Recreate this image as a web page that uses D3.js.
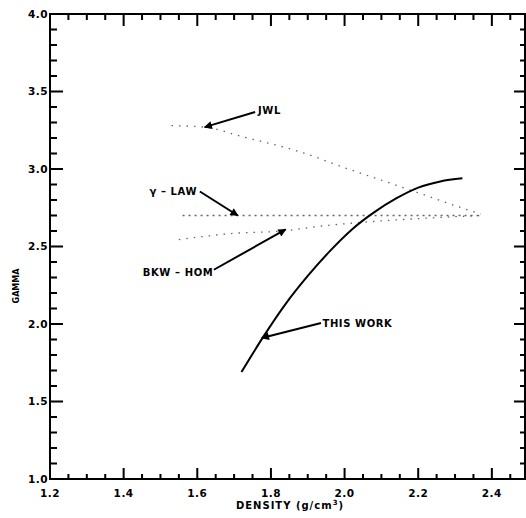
<!DOCTYPE html>
<html>
<head>
<meta charset="utf-8">
<script src="https://cdn.jsdelivr.net/npm/d3@7"></script>
<style>
  html, body { margin: 0; padding: 0; background: #fff; }
  svg { display: block; }
  text { font-family: "DejaVu Sans", sans-serif; font-weight: bold; fill: #000; }
</style>
</head>
<body>
<svg id="chart" width="526" height="518"></svg>
<script>
// Tick values and labels
const xMajor = [1.2, 1.4, 1.6, 1.8, 2.0, 2.2, 2.4];
const xLabels = ["1.2", "1.4", "1.6", "1.8", "2.0", "2.2", "2.4"];
const yMajor = [1.0, 1.5, 2.0, 2.5, 3.0, 3.5, 4.0];
const yLabels = ["1.0", "1.5", "2.0", "2.5", "3.0", "3.5", "4.0"];
const xMinor = [1.25, 1.3, 1.35, 1.45, 1.5, 1.55, 1.65, 1.7, 1.75, 1.85, 1.9, 1.95,
                2.05, 2.1, 2.15, 2.25, 2.3, 2.35, 2.45];
const yMinor = [1.1, 1.2, 1.3, 1.4, 1.6, 1.7, 1.8, 1.9, 2.1, 2.2, 2.3, 2.4,
                2.6, 2.7, 2.8, 2.9, 3.1, 3.2, 3.3, 3.4, 3.6, 3.7, 3.8, 3.9];

// THIS WORK (solid curve)
const thisWorkDensity = [1.72, 1.78, 1.84, 1.90, 1.96, 2.02, 2.08, 2.14, 2.20, 2.26, 2.32];
const thisWorkGamma   = [1.69, 1.92, 2.13, 2.31, 2.47, 2.61, 2.72, 2.81, 2.88, 2.92, 2.94];

// JWL (dotted)
const jwlDensity = [1.53, 1.62, 1.72, 1.88, 2.01, 2.11, 2.22, 2.33, 2.37];
const jwlGamma   = [3.28, 3.27, 3.21, 3.11, 3.00, 2.92, 2.83, 2.74, 2.71];

// gamma-law (dotted, constant)
const gammaLawDensity = [1.56, 2.37];
const gammaLawGamma   = [2.70, 2.70];

// BKW-HOM (dotted)
const bkwDensity = [1.55, 1.70, 1.83, 1.93, 2.07, 2.20, 2.37];
const bkwGamma   = [2.545, 2.585, 2.60, 2.63, 2.66, 2.68, 2.70];

// Annotation labels: text position, arrow start, arrow tip (data units)
const noteText  = ["JWL", "γ – LAW", "BKW – HOM", "THIS WORK"];
const noteAt    = [[1.765, 3.38], [1.47, 2.858], [1.452, 2.33], [1.94, 2.006]];
const arrowFrom = [[1.757, 3.368], [1.607, 2.855], [1.645, 2.35], [1.936, 2.006]];
const arrowTo   = [[1.62, 3.27], [1.71, 2.70], [1.84, 2.61], [1.775, 1.91]];

const svg = d3.select("#chart");
const plotL = 50, plotR = 525, plotT = 14, plotB = 479;

const x = d3.scaleLinear().domain([1.2, 2.49]).range([plotL, plotR]);
const y = d3.scaleLinear().domain([1.0, 4.0]).range([plotB, plotT]);

// frame
svg.append("rect")
  .attr("x", plotL).attr("y", plotT)
  .attr("width", plotR - plotL).attr("height", plotB - plotT)
  .attr("fill", "none").attr("stroke", "#000").attr("stroke-width", 2);

// inward tick marks on all four sides, as small filled bars
const tickG = svg.append("g").attr("fill", "#000");
function xTicks(vals, yEdge, len, cls) {
  tickG.selectAll("rect." + cls).data(vals).join("rect").attr("class", cls)
    .attr("x", d => x(d) - 1).attr("width", 2)
    .attr("y", len < 0 ? yEdge + len : yEdge).attr("height", Math.abs(len));
}
function yTicks(vals, xEdge, len, cls) {
  tickG.selectAll("rect." + cls).data(vals).join("rect").attr("class", cls)
    .attr("y", d => y(d) - 1).attr("height", 2)
    .attr("x", len < 0 ? xEdge + len : xEdge).attr("width", Math.abs(len));
}
xTicks(xMajor, plotB, -11, "bmaj");
xTicks(xMinor, plotB, -5, "bmin");
xTicks(xMajor, plotT, 12, "tmaj");
xTicks(xMinor, plotT, 6, "tmin");
yTicks(yMajor, plotL, 13, "lmaj");
yTicks(yMinor, plotL, 7, "lmin");
yTicks(yMajor, plotR, -11, "rmaj");
yTicks(yMinor, plotR, -5, "rmin");

// tick labels
svg.append("g").selectAll("text").data(xMajor).join("text")
  .attr("x", d => x(d)).attr("y", plotB + 18)
  .attr("text-anchor", "middle")
  .attr("font-size", 10.5).attr("letter-spacing", 0.5)
  .text((d, i) => xLabels[i]);
svg.append("g").selectAll("text").data(yMajor).join("text")
  .attr("x", plotL - 2).attr("y", d => y(d)).attr("dy", "0.35em")
  .attr("text-anchor", "end")
  .attr("font-size", 10.5).attr("letter-spacing", 0.5)
  .text((d, i) => yLabels[i]);

// axis titles
const xTitle = svg.append("text")
  .attr("x", 290).attr("y", 509)
  .attr("text-anchor", "middle")
  .attr("font-size", 10).attr("letter-spacing", 1);
xTitle.append("tspan").text("DENSITY (g/cm");
xTitle.append("tspan").attr("dy", -4).attr("font-size", 7).text("3");
xTitle.append("tspan").attr("dy", 4).text(")");

svg.append("text")
  .attr("transform", "translate(19,286) rotate(-90)")
  .attr("text-anchor", "middle")
  .attr("font-size", 8)
  .text("GAMMA");

const curve = d3.line().x(d => x(d[0])).y(d => y(d[1])).curve(d3.curveMonotoneX);

// dotted comparison models
const dotted = [
  d3.zip(jwlDensity, jwlGamma),
  d3.zip(gammaLawDensity, gammaLawGamma),
  d3.zip(bkwDensity, bkwGamma)
];
svg.append("g").selectAll("path").data(dotted).join("path")
  .attr("d", curve)
  .attr("fill", "none")
  .attr("stroke", "#666")
  .attr("stroke-width", 1.3)
  .attr("stroke-dasharray", (d, i) => i === 1 ? "2,4" : "1.5,6");

// this work (solid)
svg.append("path")
  .datum(d3.zip(thisWorkDensity, thisWorkGamma))
  .attr("d", curve)
  .attr("fill", "none")
  .attr("stroke", "#000")
  .attr("stroke-width", 2);

// arrowhead
svg.append("defs").append("marker")
  .attr("id", "head")
  .attr("viewBox", "0 0 10 10")
  .attr("refX", 9).attr("refY", 5)
  .attr("markerWidth", 5).attr("markerHeight", 4)
  .attr("markerUnits", "strokeWidth")
  .attr("orient", "auto")
  .append("path").attr("d", "M0,0L10,5L0,10Z").attr("fill", "#000");

// annotation arrows and labels
const notes = d3.range(noteText.length);
svg.append("g").selectAll("line").data(notes).join("line")
  .attr("x1", i => x(arrowFrom[i][0])).attr("y1", i => y(arrowFrom[i][1]))
  .attr("x2", i => x(arrowTo[i][0])).attr("y2", i => y(arrowTo[i][1]))
  .attr("stroke", "#000").attr("stroke-width", 2)
  .attr("marker-end", "url(#head)");

svg.append("g").selectAll("text").data(notes).join("text")
  .attr("x", i => x(noteAt[i][0])).attr("y", i => y(noteAt[i][1]))
  .attr("dy", "0.35em")
  .attr("font-size", 10).attr("letter-spacing", 0.6)
  .text(i => noteText[i]);
</script>
</body>
</html>
